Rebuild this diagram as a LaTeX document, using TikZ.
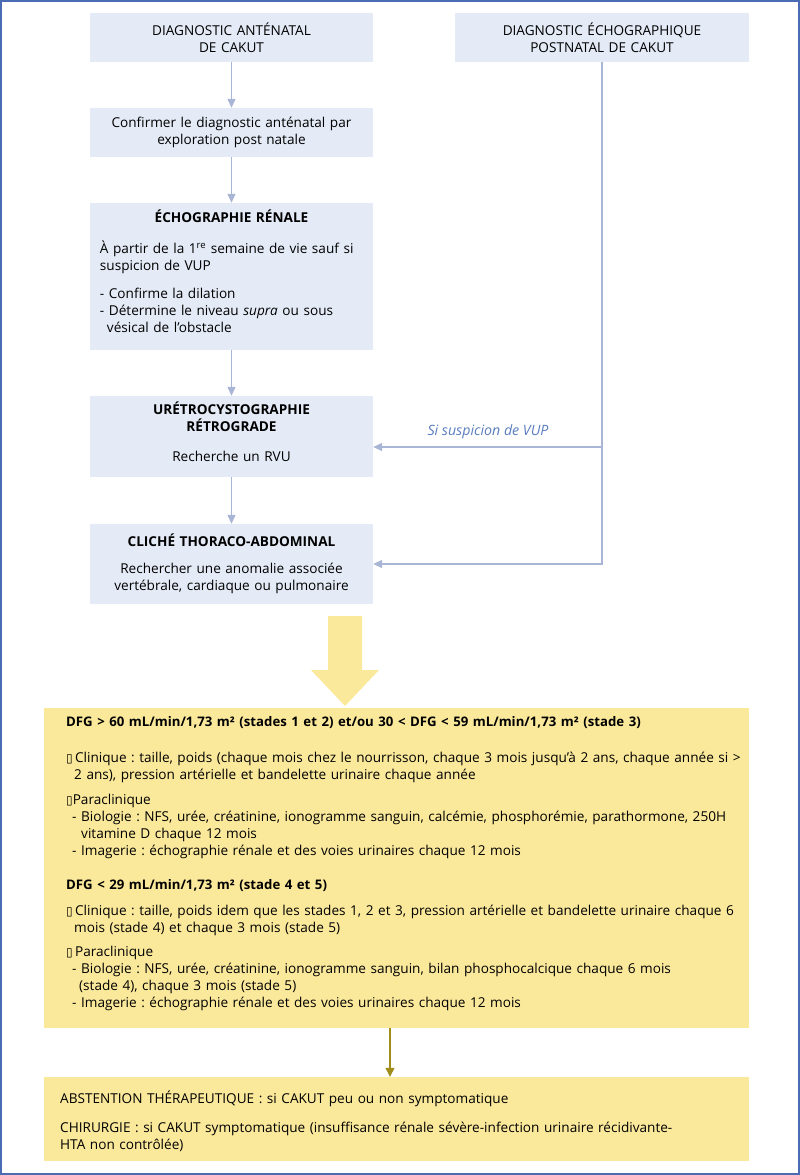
\documentclass[tikz,border=0pt]{standalone}
\usepackage{fontspec}
\setmainfont{Open Sans}
\newfontfamily\dvfont{DejaVu Sans}
\usetikzlibrary{arrows.meta,calc}
\definecolor{bfill}{HTML}{E4EBF6}
\definecolor{barr}{HTML}{A9B5D5}
\definecolor{framec}{HTML}{4A6CB4}
\definecolor{yfill}{HTML}{FBE99B}
\definecolor{olivec}{HTML}{A08D1C}
\definecolor{lblc}{HTML}{5A7DBF}
\newcommand{\sqbox}{{\dvfont\fontsize{12bp}{12bp}\selectfont ▯}}
\newcommand{\ytitle}[1]{{\fontsize{13.2bp}{17bp}\selectfont\bfseries #1}}
\frenchspacing
\begin{document}
\begin{tikzpicture}[x=1bp,y=-1bp,
  every node/.style={font=\fontsize{13.6bp}{17bp}\selectfont, inner sep=0pt},
  bbox/.style={fill=bfill, minimum width=283bp, text width=263bp, align=center},
  ybox/.style={fill=yfill, minimum width=705bp},
  ytext/.style={text width=710bp, align=left, anchor=west},
  arr/.style={draw=barr, line width=1.3bp, -{Triangle[width=8bp,length=9bp]}},
  oarr/.style={draw=olivec, line width=1.3bp, -{Triangle[width=9bp,length=9bp]}},
  bigarrow/.style={fill=yfill}
]
\useasboundingbox (0,0) rectangle (800,1175);
\draw[framec, line width=1.6bp] (0.8,0.8) rectangle (799.2,1174.2);

% left column
\node[bbox, minimum height=49bp] (b1) at (231.5,37.5) {DIAGNOSTIC ANTÉNATAL\\DE CAKUT};
\node[bbox, minimum width=294bp, minimum height=49bp] (b2) at (602,37.5) {DIAGNOSTIC ÉCHOGRAPHIQUE\\POSTNATAL DE CAKUT};
\node[bbox, minimum height=49bp] (b3) at (231.5,132.5) {Confirmer le diagnostic anténatal par\\exploration post natale};
\node[bbox, minimum height=147bp, align=left] (b4) at (231.5,276.5) {\makebox[263bp]{\bfseries ÉCHOGRAPHIE RÉNALE}\\[14bp]
À partir de la 1\textsuperscript{re} semaine de vie sauf si\\
suspicion de VUP\\[11bp]
- Confirme la dilation\\
- Détermine le niveau \textit{supra} ou sous\\
\hspace*{7bp}vésical de l’obstacle\\[-7bp]\mbox{}};
\node[bbox, minimum height=81bp] (b5) at (231.5,436.5) {{\bfseries URÉTROCYSTOGRAPHIE}\\{\bfseries RÉTROGRADE}\\[13bp]Recherche un RVU\\[-8bp]\mbox{}};
\node[bbox, minimum height=80bp] (b6) at (231.5,564) {{\bfseries CLICHÉ THORACO-ABDOMINAL}\\[10bp]Rechercher une anomalie associée\\vertébrale, cardiaque ou pulmonaire};

\draw[arr] (b1) -- (b3);
\draw[arr] (b3) -- (b4);
\draw[arr] (b4) -- (b5);
\draw[arr] (b5) -- (b6);

\coordinate (j1) at (602,447);
\draw[arr] (b2.south) |- (b6.east);
\draw[arr] (j1) -- (j1 -| b5.east);
\node[font=\fontsize{14.2bp}{17bp}\selectfont\itshape, text=lblc] (vup) at (488,432) {Si suspicion de VUP};

% big arrow
\fill[bigarrow] (328,616) -- (362,616) -- (362,670) -- (379,670) -- (345,706) -- (311,670) -- (328,670) -- cycle;

% yellow boxes
\node[ybox, minimum height=320bp] (y1) at (396.5,868) {};
\node[ytext] (y1t) at (66,864) {\ytitle{DFG > 60 mL/min/1,73 m² (stades 1 et 2) et/ou 30 < DFG < 59 mL/min/1,73 m² (stade 3)}\\[19bp]
\sqbox\,Clinique : taille, poids (chaque mois chez le nourrisson, chaque 3 mois jusqu’à 2 ans, chaque année si >\\
\hspace*{8bp}2 ans), pression artérielle et bandelette urinaire chaque année\\[8bp]
\sqbox Paraclinique\\
\hspace*{6bp}- Biologie : NFS, urée, créatinine, ionogramme sanguin, calcémie, phosphorémie, parathormone, 250H\\
\hspace*{15bp}vitamine D chaque 12 mois\\
\hspace*{6bp}- Imagerie : échographie rénale et des voies urinaires chaque 12 mois\\[17bp]
\ytitle{DFG < 29 mL/min/1,73 m² (stade 4 et 5)}\\[9bp]
\sqbox\,Clinique : taille, poids idem que les stades 1, 2 et 3, pression artérielle et bandelette urinaire chaque 6\\
\hspace*{8bp}mois (stade 4) et chaque 3 mois (stade 5)\\[7bp]
\sqbox\,Paraclinique\\
\hspace*{6bp}- Biologie : NFS, urée, créatinine, ionogramme sanguin, bilan phosphocalcique chaque 6 mois\\
\hspace*{13bp}(stade 4), chaque 3 mois (stade 5)\\
\hspace*{6bp}- Imagerie : échographie rénale et des voies urinaires chaque 12 mois};

\node[ybox, minimum height=84bp] (y2) at (396.5,1119) {};
\node[ytext] (y2t) at (60,1121) {ABSTENTION THÉRAPEUTIQUE : si CAKUT peu ou non symptomatique\\[12bp]
CHIRURGIE : si CAKUT symptomatique (insuffisance rénale sévère-infection urinaire récidivante-\\
HTA non contrôlée)};

\draw[oarr] ([xshift=-6.5bp]y1.south) -- ([xshift=-6.5bp]y2.north);
\end{tikzpicture}
\end{document}
